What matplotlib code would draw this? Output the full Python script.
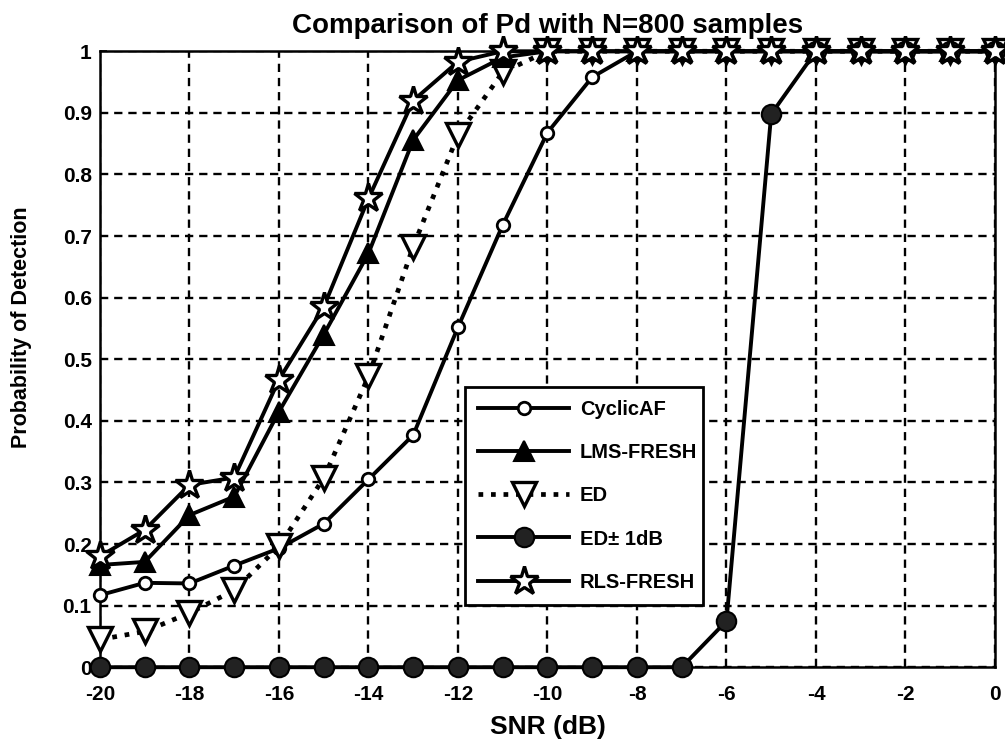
import numpy as np
import matplotlib.pyplot as plt

# SNR (dB) and Pd values
snr = list(range(-20, 1))
cyclic_af = [0.117, 0.137, 0.136, 0.165, 0.193, 0.233, 0.305, 0.377, 0.552, 0.718,
             0.868, 0.958, 1, 1, 1, 1, 1, 1, 1, 1, 1]
lms_fresh = [0.166, 0.171, 0.247, 0.277, 0.415, 0.54, 0.672, 0.856, 0.953, 0.99,
             1, 1, 1, 1, 1, 1, 1, 1, 1, 1, 1]
ed = [0.045, 0.058, 0.088, 0.125, 0.196, 0.307, 0.472, 0.683, 0.864, 0.966,
      1, 1, 1, 1, 1, 1, 1, 1, 1, 1, 1]
ed_1db = [0, 0, 0, 0, 0, 0, 0, 0, 0, 0, 0, 0, 0, 0, 0.075, 0.898, 1, 1, 1, 1, 1]
rls_fresh = [0.18, 0.223, 0.296, 0.308, 0.467, 0.585, 0.761, 0.92, 0.983, 1.0,
             1, 1, 1, 1, 1, 1, 1, 1, 1, 1, 1]

xticks = list(range(-20, 1, 2))
yticks = [0, 0.1, 0.2, 0.3, 0.4, 0.5, 0.6, 0.7, 0.8, 0.9, 1]
ytick_labels = ['0', '0.1', '0.2', '0.3', '0.4', '0.5', '0.6', '0.7', '0.8', '0.9', '1']

plt.rcParams['font.family'] = ['Liberation Sans', 'DejaVu Sans']

fig = plt.figure(figsize=(10.05, 7.43), dpi=100)
ax = fig.add_axes([0.0995, 0.102, 0.8905, 0.829])

lw = 2.8
ax.plot(snr, cyclic_af, '-', color='k', lw=lw, marker='o', ms=9, mfc='white',
        mec='k', mew=2, label='CyclicAF', clip_on=False, zorder=3)
ax.plot(snr, lms_fresh, '-', color='k', lw=lw, marker='^', ms=15, mfc='k',
        mec='k', mew=1.5, label='LMS-FRESH', clip_on=False, zorder=4)
ax.plot(snr, ed, ':', color='k', lw=lw + 0.6, marker='v', ms=17, mfc='white',
        mec='k', mew=2.4, label='ED', clip_on=False, zorder=3)
ax.plot(snr, ed_1db, '-', color='k', lw=lw, marker='o', ms=14, mfc='#222222',
        mec='k', mew=1.5, label='ED\u00b1 1dB', clip_on=False, zorder=3)
ax.plot(snr, rls_fresh, '-', color='k', lw=lw, marker='*', ms=21, mfc='white',
        mec='k', mew=2.4, label='RLS-FRESH', clip_on=False, zorder=5)

ax.set_xlim(-20, 0)
ax.set_ylim(0, 1)
ax.set_xticks(xticks)
ax.set_xticklabels([str(t) for t in xticks], fontsize=15, fontweight='bold')
ax.set_yticks(yticks)
ax.set_yticklabels(ytick_labels, fontsize=15, fontweight='bold')
ax.tick_params(direction='in', length=5, width=1.2)
ax.tick_params(axis='x', pad=13)
ax.tick_params(axis='y', pad=6)
ax.grid(True, color='k', linestyle=(0, (3.5, 2.5)), linewidth=1.7)
for s in ax.spines.values():
    s.set_linewidth(1.8)

ax.set_xlabel('SNR (dB)', fontsize=19, fontweight='bold')
ax.xaxis.set_label_coords(0.5, -0.077)
ax.set_ylabel('Probability of Detection', fontsize=15.5, fontweight='bold')
ax.yaxis.set_label_coords(-0.076, 0.552)
ax.set_title('Comparison of Pd with N=800 samples', fontsize=20, fontweight='bold', pad=13)

leg = ax.legend(loc='upper left', bbox_to_anchor=(0.408, 0.101, 0.266, 0.354),
                mode='expand', frameon=True, fancybox=False, edgecolor='k',
                handlelength=4.5, handletextpad=0.55, borderaxespad=0,
                borderpad=0.65, labelspacing=1.2,
                prop={'weight': 'bold', 'size': 14.5})
leg.get_frame().set_linewidth(2)
leg.get_frame().set_alpha(1)
leg.set_zorder(10)

fig.savefig('out.png', dpi=100)
